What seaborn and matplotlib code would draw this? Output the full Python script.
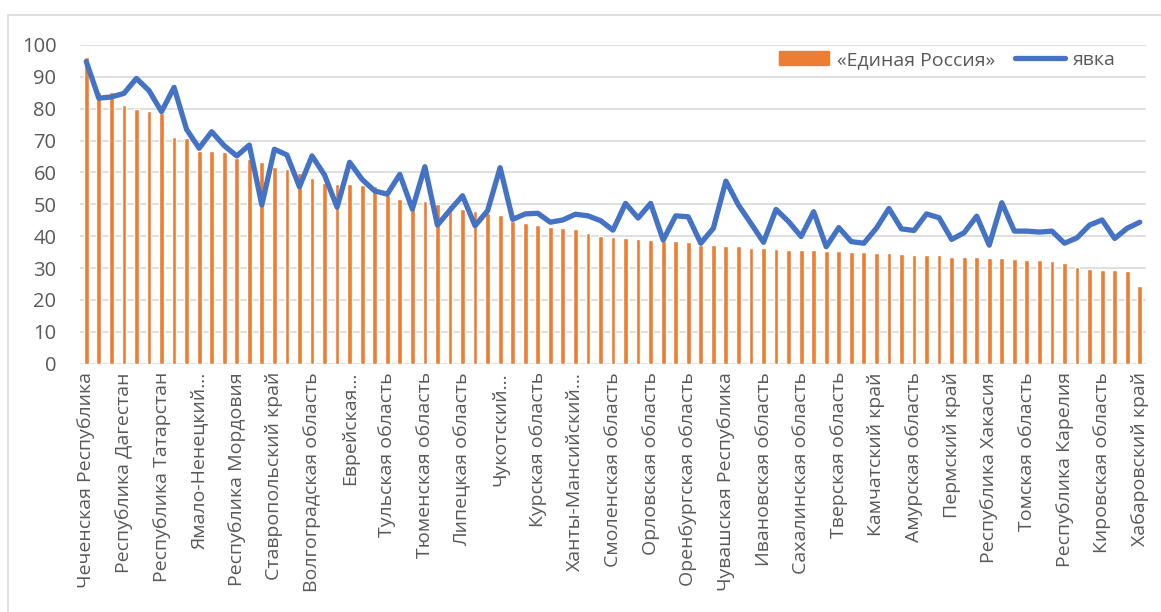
import numpy as np
import pandas as pd
import matplotlib
matplotlib.use("Agg")
import matplotlib.pyplot as plt
import seaborn as sns
from matplotlib.patches import Rectangle
from matplotlib.lines import Line2D

# share of votes for "United Russia" by region, sorted descending (%)
ur = [96.1, 85.4, 85.3, 81.2, 80.0, 79.3, 78.6, 71.0, 70.7, 66.8,
      66.6, 66.3, 64.6, 64.2, 63.2, 61.8, 61.0, 59.7, 58.4, 56.6,
      56.4, 56.3, 56.1, 55.8, 53.0, 51.6, 51.4, 51.2, 50.0, 49.8,
      48.5, 47.9, 47.4, 46.7, 44.9, 44.1, 43.4, 42.9, 42.6, 42.2,
      40.9, 40.0, 39.9, 39.4, 39.0, 38.7, 38.5, 38.4, 38.2, 37.4,
      37.3, 37.0, 36.8, 36.3, 36.2, 36.0, 35.7, 35.7, 35.6, 35.4,
      35.3, 35.1, 34.9, 34.7, 34.6, 34.5, 34.2, 34.2, 34.1, 33.6,
      33.6, 33.4, 33.3, 33.2, 32.7, 32.5, 32.5, 32.2, 31.5, 30.2,
      29.7, 29.5, 29.4, 29.0, 24.4]

# turnout (%)
turnout = [94.8, 83.3, 83.7, 84.8, 89.5, 85.7, 79.1, 86.7, 73.5, 67.6,
           72.8, 68.4, 65.2, 68.6, 49.8, 67.3, 65.5, 55.5, 65.2, 59.2,
           49.1, 63.2, 57.8, 54.2, 53.2, 59.4, 48.5, 61.8, 43.5, 48.2,
           52.7, 43.3, 48.0, 61.5, 45.3, 47.0, 47.2, 44.4, 45.1, 46.9,
           46.4, 44.9, 41.9, 50.3, 45.7, 50.3, 38.8, 46.4, 46.1, 37.8,
           42.5, 57.3, 49.8, 44.0, 38.1, 48.4, 44.6, 39.9, 47.7, 36.7,
           42.7, 38.3, 37.8, 42.5, 48.7, 42.3, 41.8, 47.0, 45.8, 39.0,
           41.1, 46.3, 37.2, 50.5, 41.6, 41.6, 41.3, 41.6, 37.8, 39.5,
           43.5, 45.1, 39.3, 42.5, 44.4]

# labels shown on the axis (every third region)
tick_labels = ["Чеченская Республика", "Республика Дагестан", "Республика Татарстан",
               "Ямало-Ненецкий…", "Республика Мордовия", "Ставропольский край",
               "Волгоградская область", "Еврейская…", "Тульская область",
               "Тюменская область", "Липецкая область", "Чукотский…",
               "Курская область", "Ханты-Мансийский…", "Смоленская область",
               "Орловская область", "Оренбургская область", "Чувашская Республика",
               "Ивановская область", "Сахалинская область", "Тверская область",
               "Камчатский край", "Амурская область", "Пермский край",
               "Республика Хакасия", "Томская область", "Республика Карелия",
               "Кировская область", "Хабаровский край"]

df = pd.DataFrame({"idx": np.arange(len(ur)), "ur": ur, "turnout": turnout})

sns.set_style("white")
plt.rcParams['font.family'] = ['Open Sans', 'DejaVu Sans']

orange = "#ED7D31"
blue = "#4472C4"
txt = "#595959"

fig = plt.figure(figsize=(11.61, 6.12), dpi=100)
ax = fig.add_axes([0.0689, 0.4057, 0.9182, 0.5208])

sns.barplot(data=df, x="idx", y="ur", color=orange, saturation=1, width=0.38, ax=ax, zorder=2)
sns.lineplot(data=df, x="idx", y="turnout", color=blue, linewidth=3.8, ax=ax, zorder=3,
             solid_joinstyle="round", solid_capstyle="round")

ax.set_xlim(-0.5, len(ur) - 0.5)
ax.set_ylim(0, 100)
ax.set_yticks(range(0, 101, 10))
ax.yaxis.grid(True, color="#D9D9D9", linewidth=1.2, zorder=0)
ax.set_axisbelow(True)
for s in ax.spines.values():
    s.set_visible(False)
ax.set_xlabel("")
ax.set_ylabel("")

ax.set_xticks(np.arange(0, len(ur), 3))
ax.set_xticklabels(tick_labels, rotation=90, ha="center", va="top")
ax.tick_params(axis="x", length=0, pad=6, labelsize=14, labelcolor=txt)
ax.tick_params(axis="y", length=0, pad=17, labelsize=14.5, labelcolor=txt)

handles = [Rectangle((0, 0), 1, 1, color=orange),
           Line2D([0], [0], color=blue, linewidth=3.8, solid_capstyle="round")]
ax.legend(handles, ["«Единая Россия»", "явка"], ncol=2, frameon=False,
          loc="center right", bbox_to_anchor=(0.988, 0.953), fontsize=14,
          labelcolor=txt, handlelength=2.6, handletextpad=0.4, columnspacing=1.0)

# chart area border
fig.patches.append(Rectangle((8 / 1161, -0.1), 1.2, 1.1 - 15 / 612,
                             transform=fig.transFigure, fill=False,
                             edgecolor="#D9D9D9", linewidth=1.2))

fig.savefig("out.png", dpi=100)
